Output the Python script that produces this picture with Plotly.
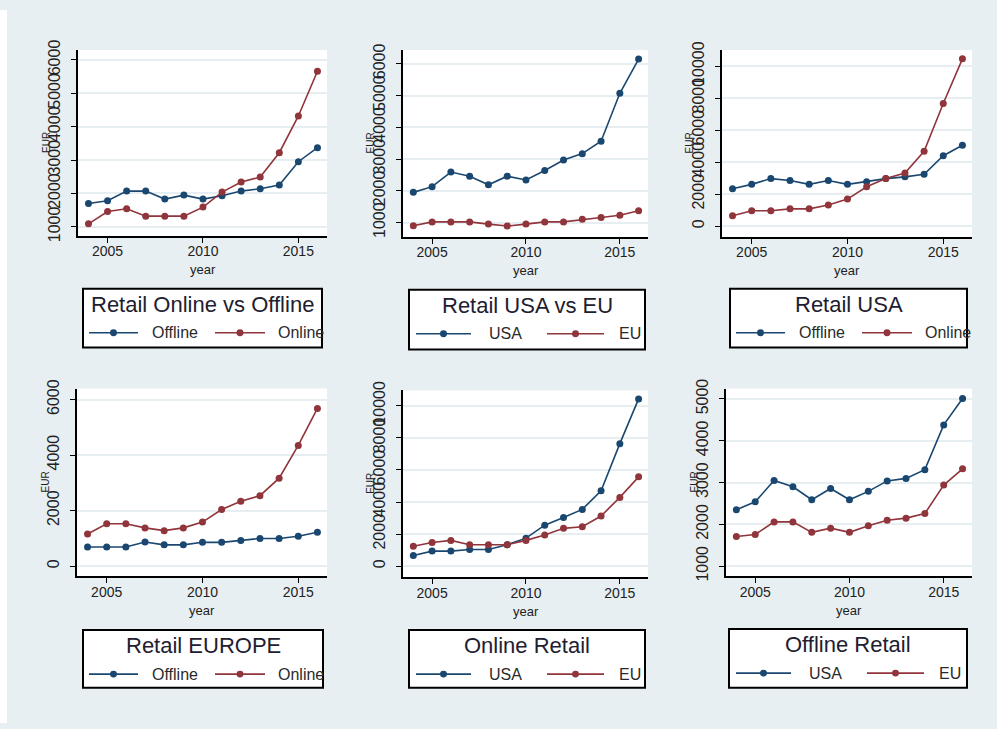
import plotly.graph_objects as go

years = [2004, 2005, 2006, 2007, 2008, 2009, 2010, 2011, 2012, 2013, 2014, 2015, 2016]

p1_offline = [1700, 1780, 2070, 2070, 1830, 1950, 1830, 1930, 2070, 2140, 2250, 2950, 3370]
p1_online = [1090, 1460, 1540, 1320, 1320, 1320, 1590, 2040, 2340, 2490, 3220, 4320, 5660]
p2_usa = [1950, 2130, 2590, 2460, 2190, 2460, 2340, 2640, 2970, 3170, 3560, 5070, 6150]
p2_eu = [900, 1020, 1020, 1020, 950, 890, 950, 1020, 1020, 1100, 1160, 1230, 1370]
p3_offline = [2340, 2610, 2970, 2850, 2610, 2850, 2610, 2770, 2970, 3080, 3240, 4400, 5050]
p3_online = [650, 960, 960, 1080, 1080, 1320, 1690, 2460, 2970, 3320, 4680, 7660, 10450]
p4_offline = [690, 690, 690, 870, 770, 770, 860, 860, 930, 1000, 1000, 1080, 1220]
p4_online = [1160, 1530, 1530, 1380, 1280, 1380, 1590, 2040, 2340, 2540, 3170, 4350, 5680]
p5_usa = [670, 940, 940, 1040, 1040, 1340, 1750, 2560, 3030, 3540, 4700, 7640, 10430]
p5_eu = [1240, 1480, 1610, 1340, 1340, 1340, 1610, 1950, 2360, 2460, 3130, 4290, 5570]
p6_usa = [2350, 2540, 3050, 2900, 2590, 2860, 2590, 2790, 3040, 3100, 3310, 4380, 5010]
p6_eu = [1710, 1760, 2060, 2060, 1810, 1910, 1810, 1970, 2100, 2150, 2260, 2940, 3330]

panel_titles = ["Retail Online vs Offline", "Retail USA vs EU", "Retail USA",
                "Retail EUROPE", "Online Retail", "Offline Retail"]
series_names = [("Offline", "Online"), ("USA", "EU"), ("Offline", "Online"),
                ("Offline", "Online"), ("USA", "EU"), ("USA", "EU")]
series_values = [(p1_offline, p1_online), (p2_usa, p2_eu), (p3_offline, p3_online),
                 (p4_offline, p4_online), (p5_usa, p5_eu), (p6_usa, p6_eu)]
y_ticks = [[1000, 2000, 3000, 4000, 5000, 6000],
           [1000, 2000, 3000, 4000, 5000, 6000],
           [0, 2000, 4000, 6000, 8000, 10000],
           [0, 2000, 4000, 6000],
           [0, 2000, 4000, 6000, 8000, 10000],
           [1000, 2000, 3000, 4000, 5000]]
x_ticks = [2005, 2010, 2015]
x_label = "year"
y_label = "EUR"

W, H = 997, 729
# plot boxes in pixels: (left, right, top, bottom)
boxes = [(78, 327, 41, 231), (403, 648, 41, 232), (722, 972, 41, 232),
         (77, 327, 387, 579), (403, 648, 389, 580), (726, 972, 387, 579)]
y_ranges = [(727, 6293), (547, 6431), (-672, 10996),
            (-363, 6398), (-690, 10957), (759, 5250)]
x_range = (2003.45, 2016.5)
# legend boxes in pixels: (left, right, top, bottom)
legend_boxes = [(83, 322, 285, 345), (409, 645, 286, 347), (730, 967, 285, 345),
                (83, 323, 634, 693), (409, 645, 634, 693), (729, 967, 633, 693)]
# entry layout relative to box left: (line1 x0, x1, text1 x, line2 x0, x1, text2 x)
entry_layout = {"Offline": (6, 55, 67, 132, 182, 193),
                "USA": (7, 62, 78, 138, 195, 208)}

BLUE = "#1a476f"
RED = "#90353b"
BG = "#e8eff2"
GRID = "#e6eef1"
TXT = "#222"


def px(x):
    return x / W


def py(y):
    return 1 - y / H


fig = go.Figure()
layout = dict(width=W, height=H, margin=dict(l=0, r=0, t=0, b=0),
              paper_bgcolor=BG, plot_bgcolor="white", showlegend=False,
              font=dict(family="Liberation Sans, Arial, sans-serif", color=TXT))
annotations = []
shapes = [
    dict(type="rect", xref="paper", yref="paper", x0=0, x1=px(7), y0=0, y1=1,
         fillcolor="white", line=dict(width=0), layer="below"),
]

for i in range(6):
    n = i + 1
    sx = "" if n == 1 else str(n)
    xa, ya = "x" + sx, "y" + sx
    l, r, t, b = boxes[i]
    (na, nb), (va, vb) = series_names[i], series_values[i]
    for name, vals, col in ((na, va, BLUE), (nb, vb, RED)):
        fig.add_trace(go.Scatter(
            x=years, y=vals, name=name, mode="lines+markers",
            line=dict(color=col, width=1.6),
            marker=dict(color=col, size=7, symbol="circle"),
            xaxis=xa, yaxis=ya))
    layout["xaxis" + sx] = dict(
        domain=[px(l), px(r)], anchor=ya, range=list(x_range),
        tickmode="array", tickvals=x_ticks, ticks="outside", ticklen=5,
        tickcolor="black", showline=True, linecolor="black", linewidth=1.5,
        showgrid=False, zeroline=False, ticklabelstandoff=-3,
        tickfont=dict(size=14, color=TXT))
    layout["yaxis" + sx] = dict(
        domain=[py(b), py(t)], anchor=xa, range=list(y_ranges[i]),
        tickmode="array", tickvals=y_ticks[i],
        ticktext=[str(v) for v in y_ticks[i]], ticks="outside", ticklen=5,
        tickcolor="black", showline=True, linecolor="black", linewidth=1.5,
        showgrid=True, gridcolor=GRID, gridwidth=2, zeroline=False,
        tickangle=-90, ticklabelstandoff=5,
        tickfont=dict(size=16, color=TXT))
    annotations.append(dict(text=x_label, xref=xa + " domain", yref=ya + " domain",
                            x=0.5, y=0, yshift=-34, showarrow=False,
                            font=dict(size=13, color=TXT), yanchor="middle"))
    annotations.append(dict(text=y_label, xref=xa + " domain", yref=ya + " domain",
                            x=0, y=0.5, xshift=-32, showarrow=False, textangle=-90,
                            font=dict(size=10, color=TXT), xanchor="center"))

    # legend box drawn by hand
    bl, br, bt, bb = legend_boxes[i]
    shapes.append(dict(type="rect", xref="paper", yref="paper",
                       x0=px(bl), x1=px(br), y0=py(bb), y1=py(bt),
                       fillcolor="white", line=dict(color="black", width=2)))
    annotations.append(dict(text=panel_titles[i], xref="paper", yref="paper",
                            x=px((bl + br) / 2), y=py(bt + 16), showarrow=False,
                            xanchor="center", yanchor="middle",
                            font=dict(size=22, color="#1e2030")))
    a1, a2, t1, c1, c2, t2 = entry_layout[na]
    iy = bt + 45
    for (x0, x1, tx, name, col) in ((a1, a2, t1, na, BLUE), (c1, c2, t2, nb, RED)):
        shapes.append(dict(type="line", xref="paper", yref="paper",
                           x0=px(bl + x0), x1=px(bl + x1), y0=py(iy), y1=py(iy),
                           line=dict(color=col, width=1.6)))
        mx = bl + (x0 + x1) / 2
        shapes.append(dict(type="circle", xref="paper", yref="paper",
                           x0=px(mx - 3.5), x1=px(mx + 3.5),
                           y0=py(iy + 3.5), y1=py(iy - 3.5),
                           fillcolor=col, line=dict(color=col, width=0)))
        annotations.append(dict(text=name, xref="paper", yref="paper",
                                x=px(bl + tx), y=py(iy), showarrow=False,
                                xanchor="left", yanchor="middle",
                                font=dict(size=16, color="#2a2a2a")))

layout["annotations"] = annotations
layout["shapes"] = shapes
fig.update_layout(**layout)
fig.write_html("out.html", config={"displayModeBar": False},
               post_script="document.body.style.margin='0px';"
                           "document.body.style.overflow='hidden';")
